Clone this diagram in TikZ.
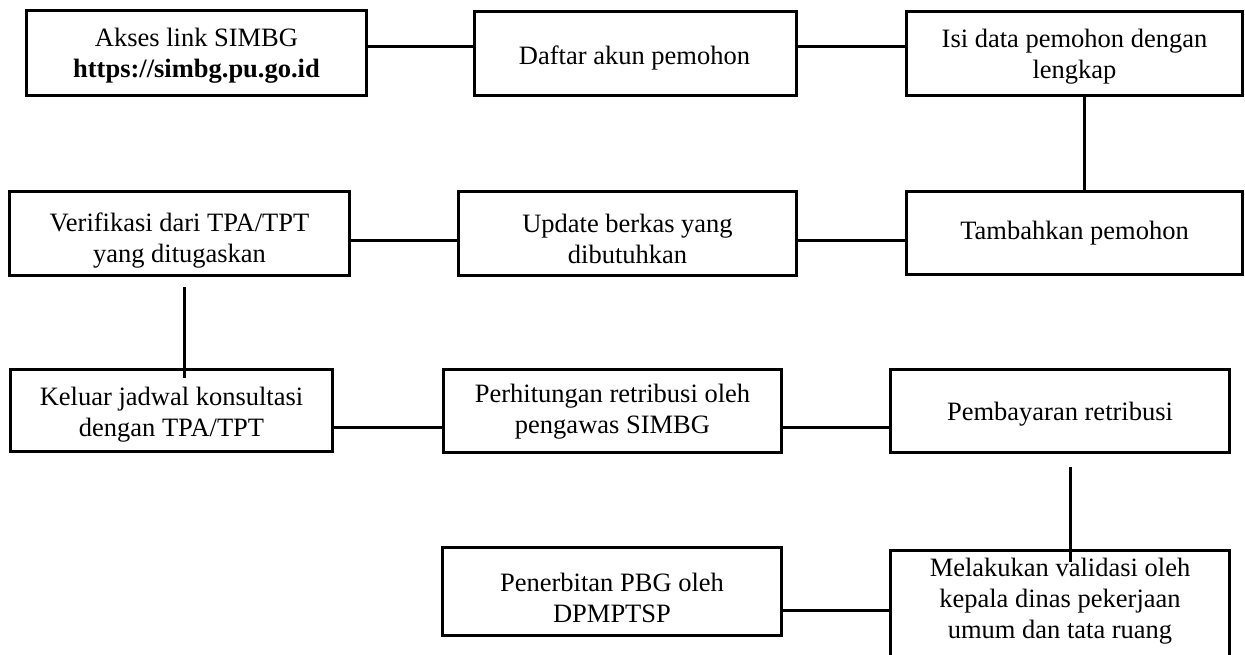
\documentclass[tikz,border=0pt]{standalone}
\usepackage{fontspec}
\setmainfont{Liberation Serif}
\usetikzlibrary{calc}
\begin{document}
\begin{tikzpicture}[x=1pt,y=-1pt,
  box/.style={draw, line width=3pt, rectangle, inner sep=0pt},
  txt/.style={align=center, inner sep=0pt, font=\fontsize{26.5}{31}\selectfont},
  link/.style={line width=3pt}]
\useasboundingbox (0,0) rectangle (1245,655);
\clip (0,0) rectangle (1245,655);
% row 1
\node[box, minimum width=340, minimum height=85] (b1) at (196.5,53) {};
\node[txt] (b1t) at ($(b1.center)+(0,3)$) {Akses link SIMBG\\\textbf{https://simbg.pu.go.id}};
\node[box, minimum width=322, minimum height=84] (b2) at (635.5,53.5) {};
\node[txt] (b2t) at ($(b2.center)+(-1,4)$) {Daftar akun pemohon};
\node[box, minimum width=336, minimum height=84] (b3) at (1074.5,53.5) {};
\node[txt] (b3t) at ($(b3.center)+(0,3)$) {Isi data pemohon dengan\\lengkap};
% row 2
\node[box, minimum width=336, minimum height=83] (b4) at (1074.5,233) {};
\node[txt] (b4t) at ($(b4.center)+(0,0)$) {Tambahkan pemohon};
\node[box, minimum width=340, minimum height=84] (b5) at (179.5,233.5) {};
\node[txt] (b5t) at ($(b5.center)+(0,7)$) {Verifikasi dari TPA/TPT\\yang ditugaskan};
\node[box, minimum width=338, minimum height=84] (b6) at (627.5,233.5) {};
\node[txt] (b6t) at ($(b6.center)+(0,5.5)$) {Update berkas yang\\dibutuhkan};
% row 3
\node[box, minimum width=322, minimum height=82] (b7) at (171.5,410.5) {};
\node[txt] (b7t) at ($(b7.center)+(0,4)$) {Keluar jadwal konsultasi\\dengan TPA/TPT};
\node[box, minimum width=338, minimum height=83] (b8) at (612.5,411) {};
\node[txt] (b8t) at ($(b8.center)+(0,1)$) {Perhitungan retribusi oleh\\pengawas SIMBG};
\node[box, minimum width=339, minimum height=83] (b9) at (1060,411) {};
\node[txt] (b9t) at ($(b9.center)+(0,3)$) {Pembayaran retribusi};
% row 4
\node[box, minimum width=339, minimum height=88] (b11) at (612,591.5) {};
\node[txt] (b11t) at ($(b11.center)+(0,6.5)$) {Penerbitan PBG oleh\\DPMPTSP};
\node[box, minimum width=339, minimum height=130, anchor=north] (b10) at (1060,548.5) {};
\node[txt] (b10t) at (1060,601) {Melakukan validasi oleh\\kepala dinas pekerjaan\\umum dan tata ruang};
% helper coordinates
\coordinate (r1) at (0,47);
\coordinate (r2) at (0,241);
\coordinate (r3) at (0,427);
\coordinate (r4) at (0,610);
\coordinate (v1) at (1084,0);
\coordinate (v2) at (184,0);
\coordinate (v3) at (1070,0);
% connectors
\draw[link] (b1.east |- r1) -- (b2.west |- r1);
\draw[link] (b2.east |- r1) -- (b3.west |- r1);
\draw[link] (b3.south -| v1) -- (b4.north -| v1);
\draw[link] (b4.west |- r2) -- (b6.east |- r2);
\draw[link] (b6.west |- r2) -- (b5.east |- r2);
\draw[link] ($(b5.south -| v2)+(0,10)$) -- ($(b7.north -| v2)+(0,10)$);
\draw[link] (b7.east |- r3) -- (b8.west |- r3);
\draw[link] (b8.east |- r3) -- (b9.west |- r3);
\draw[link] ($(b9.south -| v3)+(0,13)$) -- ($(b10.north -| v3)+(0,13)$);
\draw[link] (b10.west |- r4) -- (b11.east |- r4);
\end{tikzpicture}
\end{document}
